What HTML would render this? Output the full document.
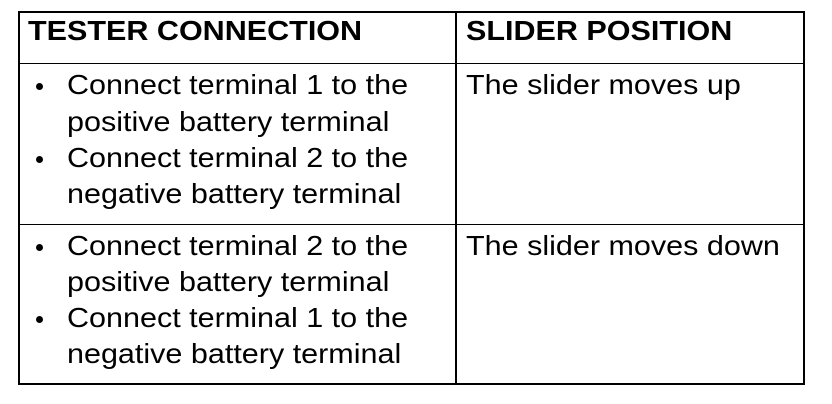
<html><head><style>
body{margin:0;width:832px;height:404px;background:#fff;position:relative;overflow:hidden;font-family:"Liberation Sans",sans-serif;color:#000}
.l{position:absolute;background:#000}
.t{position:absolute;font-size:27.5px;line-height:36px;white-space:nowrap;transform:scaleX(1.11);transform-origin:0 50%}
.b{font-weight:bold}
.d{position:absolute;width:7px;height:7px;border-radius:50%;background:#000}
</style></head><body>
<div class="l" style="left:18px;top:11px;width:787px;height:2px"></div>
<div class="l" style="left:18px;top:383px;width:787px;height:2px"></div>
<div class="l" style="left:18px;top:11px;width:2px;height:374px"></div>
<div class="l" style="left:803px;top:11px;width:2px;height:374px"></div>
<div class="l" style="left:455px;top:11px;width:2px;height:374px"></div>
<div class="l" style="left:18px;top:63px;width:787px;height:1px"></div>
<div class="l" style="left:18px;top:224px;width:787px;height:1px"></div>

<div class="t b" style="left:28px;top:13px">TESTER CONNECTION</div>
<div class="t b" style="left:466px;top:13px">SLIDER POSITION</div>

<div class="d" style="left:36px;top:83px"></div>
<div class="t" style="left:67px;top:67px">Connect terminal 1 to the</div>
<div class="t" style="left:67px;top:104px">positive battery terminal</div>
<div class="d" style="left:36px;top:156px"></div>
<div class="t" style="left:67px;top:140px">Connect terminal 2 to the</div>
<div class="t" style="left:67px;top:176px">negative battery terminal</div>
<div class="t" style="left:466px;top:67px">The slider moves up</div>

<div class="d" style="left:36px;top:244px"></div>
<div class="t" style="left:67px;top:228px">Connect terminal 2 to the</div>
<div class="t" style="left:67px;top:264px">positive battery terminal</div>
<div class="d" style="left:36px;top:316px"></div>
<div class="t" style="left:67px;top:300px">Connect terminal 1 to the</div>
<div class="t" style="left:67px;top:336px">negative battery terminal</div>
<div class="t" style="left:466px;top:228px">The slider moves down</div>
</body></html>
